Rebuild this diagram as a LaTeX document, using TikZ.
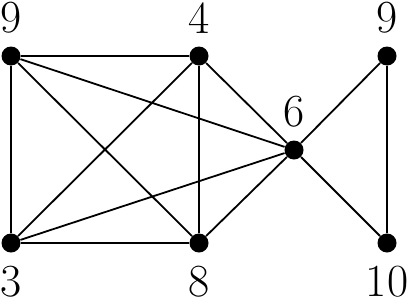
\documentclass[tikz,border=0pt]{standalone}
\begin{document}
\begin{tikzpicture}[x=0.5pt,y=-0.5pt,
  vtx/.style={circle,fill=black,inner sep=0pt,minimum size=9.5pt},
  lbl/.style={font=\fontsize{23}{26}\selectfont,inner sep=0pt},
  edge/.style={line width=0.9pt}]
\useasboundingbox (0,0) rectangle (411,300);
\node[vtx] (a) at (11,56) {};
\node[vtx] (b) at (199,56) {};
\node[vtx] (c) at (387,56) {};
\node[vtx] (d) at (294,150) {};
\node[vtx] (e) at (11,243) {};
\node[vtx] (f) at (199,243) {};
\node[vtx] (g) at (387,243) {};
\node[lbl] (la) at (11,18) {9};
\node[lbl] (lb) at (199,18) {4};
\node[lbl] (lc) at (387,18) {9};
\node[lbl] (ld) at (294,112) {6};
\node[lbl] (le) at (11,282) {3};
\node[lbl] (lf) at (199,282) {8};
\node[lbl] (lg) at (387,282) {10};
\draw[edge] (a) -- (b) (a) -- (e) (a) -- (f) (a) -- (d)
  (b) -- (e) (b) -- (f) (b) -- (d)
  (e) -- (f) (e) -- (d) (f) -- (d)
  (d) -- (c) (d) -- (g) (c) -- (g);
\end{tikzpicture}
\end{document}
